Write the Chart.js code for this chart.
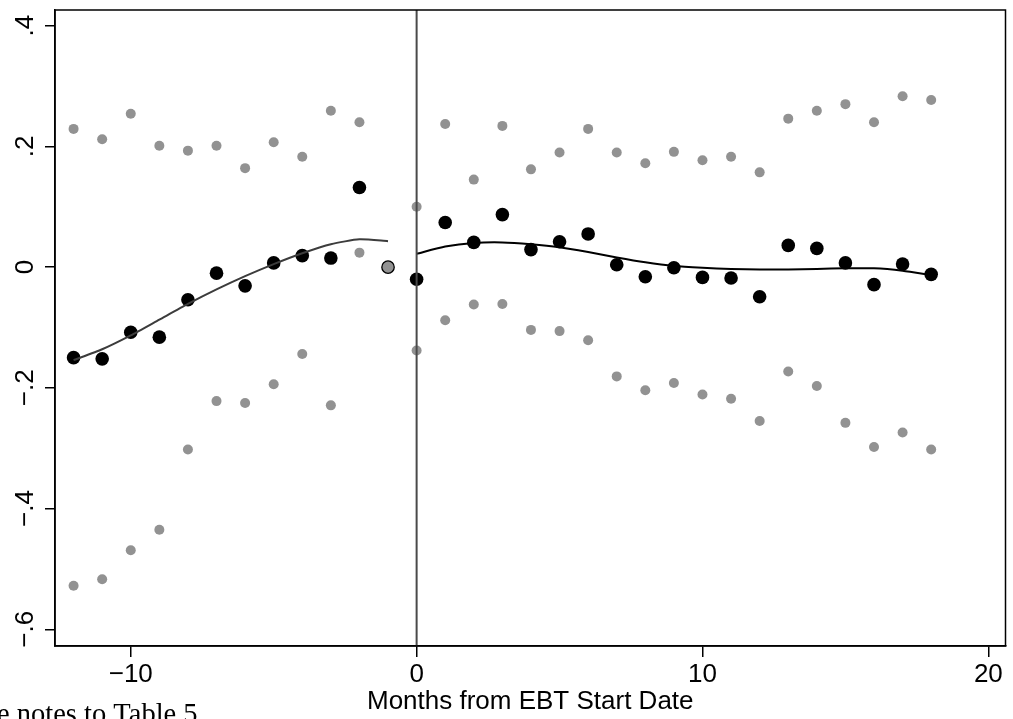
<!DOCTYPE html>
<html><head><meta charset="utf-8">
<script src="https://cdn.jsdelivr.net/npm/chart.js@4"></script>
<style>html,body{margin:0;padding:0;background:#fff;overflow:hidden}#wrap{width:1013px;height:719px;position:relative}</style>
</head><body><div id="wrap"><canvas id="c" width="1013" height="719"></canvas></div>
<script>
// Event-study months (reference month -1 omitted and shown separately)
const months = [-12,-11,-10,-9,-8,-7,-6,-5,-4,-3,-2,0,1,2,3,4,5,6,7,8,9,10,11,12,13,14,15,16,17,18];
const estimates = [-0.150,-0.152,-0.108,-0.116,-0.054,-0.010,-0.031,0.007,0.019,0.015,0.132,
  -0.020,0.074,0.041,0.087,0.029,0.042,0.055,0.004,-0.016,-0.001,-0.017,-0.018,-0.049,0.036,0.031,0.007,-0.029,0.005,-0.012];
const ciUpper = [0.229,0.212,0.254,0.201,0.193,0.201,0.164,0.207,0.183,0.259,0.240,
  0.100,0.237,0.145,0.234,0.162,0.190,0.229,0.190,0.172,0.191,0.177,0.183,0.157,0.246,0.259,0.270,0.240,0.283,0.277];
const ciLower = [-0.528,-0.517,-0.469,-0.435,-0.302,-0.222,-0.225,-0.194,-0.144,-0.229,0.024,
  -0.138,-0.088,-0.062,-0.061,-0.104,-0.106,-0.121,-0.181,-0.204,-0.192,-0.211,-0.218,-0.255,-0.173,-0.197,-0.258,-0.298,-0.274,-0.302];
const refMonth = [-1];
const refValue = [0];
const preMonths = [-12,-11,-10,-9,-8,-7,-6,-5,-4,-3,-2,-1];
const preFit = [-0.154,-0.136,-0.113,-0.087,-0.061,-0.037,-0.015,0.005,0.023,0.038,0.046,0.043];
const postMonths = [0,1,2,3,4,5,6,7,8,9,10,11,12,13,14,15,16,17,18];
const postFit = [0.022,0.034,0.040,0.041,0.038,0.033,0.025,0.016,0.008,0.002,-0.001,-0.003,-0.004,-0.004,-0.003,-0.002,-0.002,-0.006,-0.013];
const xTicks = [-10,0,10,20];
const yTicks = [-0.6,-0.4,-0.2,0,0.2,0.4];
const xTitle = 'Months from EBT Start Date';
const noteText = 'e notes to Table 5';

const pts = (xs, ys) => xs.map((x,i)=>({x, y: ys[i]}));
const fmtMinus = s => s.replace('-', '\u2212');
const fmtY = v => { const r = Math.round(v*10)/10; if (r === 0) return '0'; return (r<0?'\u2212':'') + '.' + Math.round(Math.abs(r)*10); };

const frame = {
  id: 'frame',
  afterDraw(chart) {
    const {ctx, chartArea: a, scales} = chart;
    ctx.save();
    const x0 = scales.x.getPixelForValue(0);
    ctx.strokeStyle = '#4a4a4a'; ctx.lineWidth = 2;
    ctx.beginPath(); ctx.moveTo(x0, a.top); ctx.lineTo(x0, a.bottom); ctx.stroke();
    ctx.strokeStyle = '#000'; ctx.lineWidth = 1.5;
    ctx.strokeRect(a.left, a.top, a.right - a.left, a.bottom - a.top);
    ctx.fillStyle = '#000';
    ctx.font = '28.5px "Liberation Serif"';
    ctx.textBaseline = 'alphabetic'; ctx.textAlign = 'left';
    ctx.fillText(noteText, -3, 723);
    ctx.restore();
  }
};

new Chart(document.getElementById('c'), {
  type: 'scatter',
  data: {
    datasets: [
      {label:'ci upper', data: pts(months, ciUpper), backgroundColor:'#929292', borderWidth:0, pointRadius:5, order:5},
      {label:'ci lower', data: pts(months, ciLower), backgroundColor:'#929292', borderWidth:0, pointRadius:5, order:5},
      {label:'estimate', data: pts(months, estimates), backgroundColor:'#000', borderWidth:0, pointRadius:6.8, order:4},
      {label:'reference', data: pts(refMonth, refValue), backgroundColor:'#929292', borderColor:'#000', borderWidth:1.3, pointRadius:6.2, order:3},
      {label:'pre fit', type:'line', data: pts(preMonths, preFit), borderColor:'#3c3c3c', borderWidth:2, pointRadius:0, tension:0.2, fill:false, order:1},
      {label:'post fit', type:'line', data: pts(postMonths, postFit), borderColor:'#000', borderWidth:2, pointRadius:0, tension:0.2, fill:false, order:1}
    ]
  },
  options: {
    responsive:false, animation:false,
    layout:{padding:{left:0, right:6, top:10, bottom:0}},
    plugins:{legend:{display:false}, tooltip:{enabled:false}},
    scales:{
      x:{type:'linear', min:-12.65, max:20.6,
        afterBuildTicks: s => { s.ticks = xTicks.map(v=>({value:v})); },
        afterFit: s => { s.height = 73; s.paddingLeft = 0; s.paddingRight = 0; },
        ticks:{callback: v => fmtMinus(String(v)), font:{family:'"Liberation Sans"', size:26}, color:'#000', padding:2, maxRotation:0},
        grid:{drawOnChartArea:false, tickLength:11, color:'#000', lineWidth:1.5},
        border:{color:'#000', width:1.5},
        title:{display:true, text:xTitle, font:{family:'"Liberation Sans"', size:26}, color:'#000', padding:{top:0,bottom:2}}
      },
      y:{type:'linear', min:-0.6277, max:0.426,
        afterBuildTicks: s => { s.ticks = yTicks.map(v=>({value:v})); },
        afterFit: s => { s.width = 55; s.paddingTop = 0; s.paddingBottom = 0; },
        ticks:{callback: v => fmtY(v), font:{family:'"Liberation Sans"', size:26}, color:'#000', minRotation:90, maxRotation:90, crossAlign:'center', padding:1},
        grid:{drawOnChartArea:false, tickLength:10, color:'#000', lineWidth:1.5},
        border:{color:'#000', width:1.5}
      }
    }
  },
  plugins:[frame]
});
</script></body></html>
